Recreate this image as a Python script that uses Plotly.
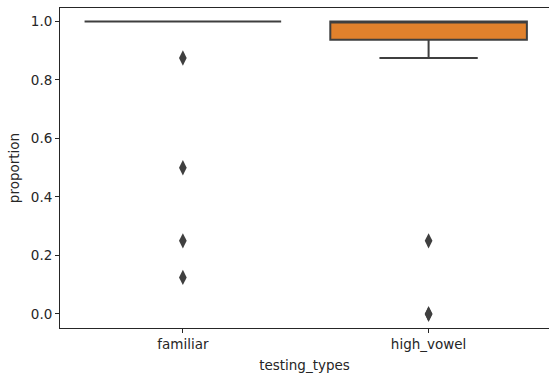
import plotly.graph_objects as go

categories = ["familiar", "high_vowel"]
q1 = [1.0, 0.9375]
median = [1.0, 1.0]
q3 = [1.0, 1.0]
lower_fence = [1.0, 0.875]
upper_fence = [1.0, 1.0]
fill_colors = ["#3274a1", "#e1812c"]
outliers = {
    "familiar": [0.875, 0.5, 0.25, 0.125],
    "high_vowel": [0.25, 0.0, 0.0],
}
y_ticks = [0.0, 0.2, 0.4, 0.6, 0.8, 1.0]

fig = go.Figure()
for i, cat in enumerate(categories):
    fig.add_trace(go.Box(
        x=[cat], q1=[q1[i]], median=[median[i]], q3=[q3[i]],
        lowerfence=[lower_fence[i]], upperfence=[upper_fence[i]],
        fillcolor=fill_colors[i], line=dict(color="#3f3f3f", width=2),
        width=0.8, whiskerwidth=0.5, showlegend=False, boxpoints=False,
        hoverinfo="skip",
    ))
    fig.add_trace(go.Scatter(
        x=[cat] * len(outliers[cat]), y=outliers[cat], mode="markers",
        marker=dict(symbol="diamond-tall", size=11, color="#3f3f3f",
                    line=dict(width=0)),
        showlegend=False, hoverinfo="skip",
    ))

font = dict(family="DejaVu Sans", size=13.5, color="#262626")
fig.update_layout(
    width=549, height=377,
    margin=dict(l=60, r=0, t=8, b=49),
    plot_bgcolor="white", paper_bgcolor="white",
    font=font, boxmode="overlay",
)
fig.update_xaxes(
    type="category", categoryorder="array", categoryarray=categories,
    range=[-0.5, 1.49], showline=True, mirror=True, linecolor="#262626",
    linewidth=1, ticks="outside", ticklen=4, tickcolor="#262626",
    showgrid=False, zeroline=False, automargin=False,
    title=dict(text="testing_types", font=font, standoff=9),
)
fig.update_yaxes(
    range=[-0.048, 1.046], tickvals=y_ticks, tickformat=".1f",
    showline=True, mirror=True, linecolor="#262626", linewidth=1,
    ticks="outside", ticklen=4, tickcolor="#262626",
    showgrid=False, zeroline=False, automargin=False,
    title=dict(text="proportion", font=font, standoff=8),
)
fig.write_html(
    "out.html",
    config={"displayModeBar": False},
    post_script="document.body.style.margin='0';document.body.style.overflow='hidden';",
)
